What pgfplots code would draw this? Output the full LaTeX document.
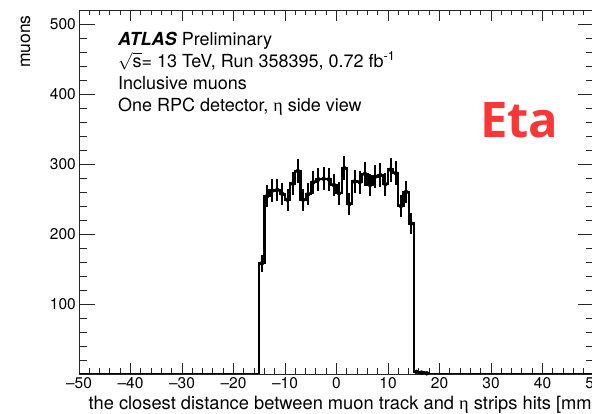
\documentclass[border=0pt]{standalone}
\usepackage{fontspec}
\setmainfont{TeX Gyre Heros}
\newfontfamily\etafont{Open Sans}
\newfontfamily\grk{Liberation Serif}
\usepackage{pgfplots}
\pgfplotsset{compat=1.18}
\definecolor{etared}{RGB}{250,55,55}
\pgfplotstableread{
x y e
-14.5 158 12.6
-13.5 254 15.9
-12.5 262 16.2
-11.5 263 16.2
-10.5 257 16.0
-9.5 249 15.8
-8.5 272 16.5
-7.5 290 17.0
-6.5 249 15.8
-5.5 257 16.0
-4.5 274 16.6
-3.5 278 16.7
-2.5 279 16.7
-1.5 278 16.7
-0.5 270 16.4
0.5 258 16.1
1.5 294 17.1
2.5 243 15.6
3.5 275 16.6
4.5 274 16.6
5.5 286 16.9
6.5 270 16.4
7.5 282 16.8
8.5 284 16.9
9.5 271 16.5
10.5 292 17.1
11.5 287 16.9
12.5 240 15.5
13.5 260 16.1
14.5 215 14.7
15.5 3 1.7
16.5 2 1.4
17.5 1 1.0
}\errtable
\begin{document}
\begin{tikzpicture}
\path[use as bounding box] (0,0) rectangle (592bp,414bp);
\clip (0,0) rectangle (592bp,414bp);
\begin{axis}[
  at={(79bp,40bp)}, anchor=south west,
  scale only axis, width=515bp, height=364bp,
  xmin=-50, xmax=50, ymin=0, ymax=520,
  xtick={-50,-40,...,50},
  xticklabels={\textendash50,\textendash40,\textendash30,\textendash20,\textendash10,0,10,20,30,40,50},
  minor x tick num=4,
  ytick={0,100,...,500},
  yticklabels={,100,200,300,400,500},
  minor y tick num=4,
  tick align=inside,
  axis line style={line width=0.9bp, black!85},
  every tick/.style={line width=0.9bp, black!85},
  x tick style={/pgfplots/major tick length=11bp,/pgfplots/minor tick length=5.5bp},
  y tick style={/pgfplots/major tick length=16bp,/pgfplots/minor tick length=8bp},
  /pgf/number format/assume math mode=true,
  tick label style={font=\fontsize{15.5bp}{18bp}\selectfont},
  xticklabel style={anchor=base, yshift=-14bp, inner sep=0pt},
  yticklabel style={anchor=east, inner sep=0pt, xshift=-3bp},
  xlabel={the closest distance between muon track and {\grk η} strips hits [mm]},
  xlabel style={at={(rel axis cs:1,0)}, anchor=base east, xshift=3bp, yshift=-35bp, inner sep=0pt, font=\fontsize{18.3bp}{21bp}\selectfont},
  ylabel={muons},
  ylabel style={at={(axis description cs:-0.104,0.986)}, anchor=east, inner sep=0pt, font=\fontsize{17.5bp}{20bp}\selectfont},
]
\addplot[const plot mark left, mark=none, line width=2.2bp, black] coordinates {
(-50,0) (-15,158) (-14,254) (-13,262) (-12,263) (-11,257) (-10,249) (-9,272) (-8,290) (-7,249) (-6,257) (-5,274) (-4,278) (-3,279) (-2,278) (-1,270) (0,258) (1,294) (2,243) (3,275) (4,274) (5,286) (6,270) (7,282) (8,284) (9,271) (10,292) (11,287) (12,240) (13,260) (14,215) (15,3) (16,2) (17,1) (18,0) (50,0)
};
\addplot[only marks, mark=none, error bars/.cd, y dir=both, y explicit, error mark=none, error bar style={line width=2bp, black}] table[x=x, y=y, y error=e] {\errtable};
\node[anchor=base west, inner sep=0pt, font=\fontsize{18bp}{22bp}\selectfont] at (axis description cs:0.0757,0.9038) {\textbf{\textit{ATLAS}} Preliminary};
\node[anchor=base west, inner sep=0pt, font=\fontsize{18bp}{22bp}\selectfont] at (axis description cs:0.0757,0.8434) {$\sqrt{\hbox{s}}$= 13 TeV, Run 358395, 0.72 fb\textsuperscript{-1}};
\node[anchor=base west, inner sep=0pt, font=\fontsize{18bp}{22bp}\selectfont] at (axis description cs:0.0757,0.7816) {Inclusive muons};
\node[anchor=base west, inner sep=0pt, font=\fontsize{18bp}{22bp}\selectfont] at (axis description cs:0.0757,0.7198) {One RPC detector, {\grk η} side view};
\node[anchor=base west, inner sep=0pt, text=etared, font=\etafont\bfseries\fontsize{49bp}{56bp}\selectfont] at (axis description cs:0.7786,0.6511) {Eta};
\end{axis}
\end{tikzpicture}
\end{document}
